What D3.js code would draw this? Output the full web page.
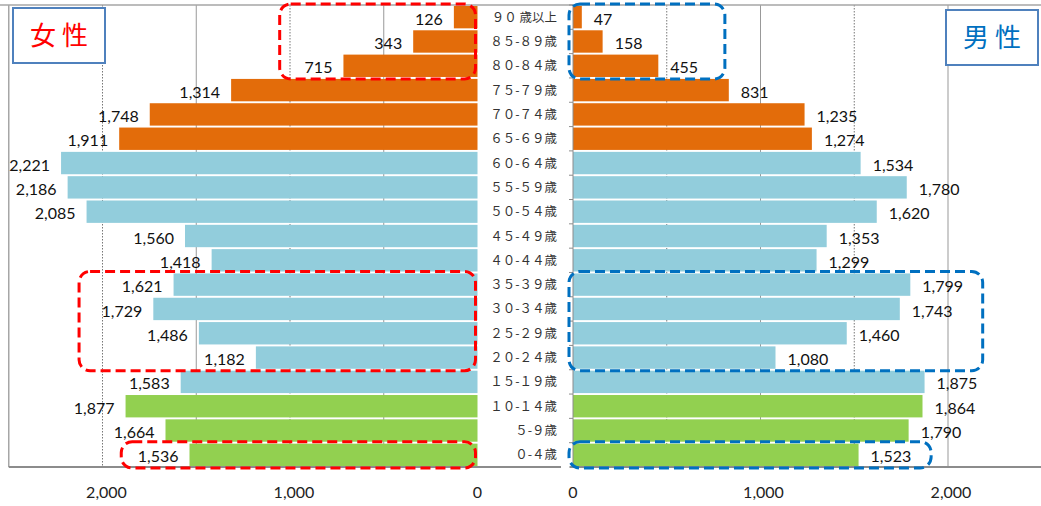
<!DOCTYPE html>
<html>
<head>
<meta charset="utf-8">
<script src="https://cdn.jsdelivr.net/npm/d3@7"></script>
<style>
  body { margin: 0; background: #fff; }
  svg { display: block; }
</style>
</head>
<body>
<div id="chart"></div>
<script>
// age groups, top to bottom
var ages = ["９０ 歳以上", "８５-８９歳", "８０-８４歳", "７５-７９歳", "７０-７４歳", "６５-６９歳",
  "６０-６４歳", "５５-５９歳", "５０-５４歳", "４５-４９歳", "４０-４４歳", "３５-３９歳",
  "３０-３４歳", "２５-２９歳", "２０-２４歳", "１５-１９歳", "１０-１４歳", "５-９歳", "０-４歳"];

var female = [126, 343, 715, 1314, 1748, 1911, 2221, 2186, 2085, 1560, 1418, 1621, 1729, 1486, 1182, 1583, 1877, 1664, 1536];
var male = [47, 158, 455, 831, 1235, 1274, 1534, 1780, 1620, 1353, 1299, 1799, 1743, 1460, 1080, 1875, 1864, 1790, 1523];

// 老年 / 生産年齢 / 年少
var groups = ["old", "old", "old", "old", "old", "old", "work", "work", "work", "work", "work",
  "work", "work", "work", "work", "work", "young", "young", "young"];

var tickValues = [0, 1000, 2000];

// highlighted ranges: first age, last age, value reached
var femaleBoxes = [
  {from: 0, to: 2, value: 1055},
  {from: 11, to: 14, value: 2125},
  {from: 18, to: 18, value: 1900}
];
var maleBoxes = [
  {from: 0, to: 2, value: 810},
  {from: 11, to: 14, value: 2185},
  {from: 18, to: 18, value: 1910}
];

var svgWidth = 1041;
var svgHeight = 506;

var colors = {old: "#E36C0A", work: "#92CDDC", young: "#92D050"};

var svg = d3.select("#chart")
  .append("svg")
  .attr("width", svgWidth)
  .attr("height", svgHeight);

var plotTop = 5, plotBottom = 467;

// scales
var xL = d3.scaleLinear().domain([0, 2500]).range([477.5, 8.75]);
var xR = d3.scaleLinear().domain([0, 2500]).range([573, 1041.75]);
var y = d3.scaleBand().domain(ages).range([plotTop, plotBottom]).paddingInner(0.08).paddingOuter(0.04);
var band = (plotBottom - plotTop) / ages.length;

var rows = ages.map(function(a, i) {
  return {age: a, f: female[i], m: male[i], g: groups[i], i: i};
});

// gridlines
[500, 1000, 1500, 2000].forEach(function(v) {
  svg.append("line")
    .attr("x1", xL(v)).attr("x2", xL(v))
    .attr("y1", plotTop).attr("y2", plotBottom)
    .attr("stroke", (v % 1000 === 0) ? "#777" : "#999")
    .attr("stroke-dasharray", (v % 1000 === 0) ? "1.5,1.5" : null)
    .attr("stroke-width", 1);
  svg.append("line")
    .attr("x1", xR(v)).attr("x2", xR(v))
    .attr("y1", plotTop).attr("y2", plotBottom)
    .attr("stroke", (v % 1000 === 0) ? "#999" : "#777")
    .attr("stroke-dasharray", (v % 1000 === 0) ? null : "1.5,1.5")
    .attr("stroke-width", 1);
});

// frame
svg.append("line").attr("x1", 0).attr("x2", svgWidth).attr("y1", plotTop).attr("y2", plotTop)
  .attr("stroke", "#a6a6a6").attr("stroke-width", 1.5);
svg.append("line").attr("x1", xL(2500)).attr("x2", xL(2500)).attr("y1", plotTop).attr("y2", plotBottom)
  .attr("stroke", "#a6a6a6").attr("stroke-width", 1.5);

// bars
svg.selectAll(".barF")
  .data(rows)
  .enter()
  .append("rect")
  .attr("class", "barF")
  .attr("x", d => xL(d.f))
  .attr("y", d => y(d.age))
  .attr("width", d => xL(0) - xL(d.f))
  .attr("height", y.bandwidth())
  .attr("fill", d => colors[d.g]);

svg.selectAll(".barM")
  .data(rows)
  .enter()
  .append("rect")
  .attr("class", "barM")
  .attr("x", xR(0))
  .attr("y", d => y(d.age))
  .attr("width", d => xR(d.m) - xR(0))
  .attr("height", y.bandwidth())
  .attr("fill", d => colors[d.g]);

// axes
svg.append("line").attr("x1", xL(2500)).attr("x2", 561).attr("y1", plotBottom).attr("y2", plotBottom)
  .attr("stroke", "#8c8c8c").attr("stroke-width", 2);
svg.append("line").attr("x1", 570).attr("x2", svgWidth).attr("y1", plotBottom).attr("y2", plotBottom)
  .attr("stroke", "#8c8c8c").attr("stroke-width", 2);
svg.append("line").attr("x1", xR(0)).attr("x2", xR(0)).attr("y1", plotTop).attr("y2", plotBottom)
  .attr("stroke", "#8c8c8c").attr("stroke-width", 1);
d3.range(ages.length + 1).forEach(function(k) {
  svg.append("line")
    .attr("x1", xR(0) - 4).attr("x2", xR(0))
    .attr("y1", plotTop + k * band).attr("y2", plotTop + k * band)
    .attr("stroke", "#8c8c8c");
});

var fmt = d3.format(",");

var axisFont = "Lato, 'Open Sans', sans-serif";

svg.selectAll(".tickL")
  .data(tickValues)
  .enter()
  .append("text")
  .attr("x", d => xL(d) + (d === 0 ? 0 : 4))
  .attr("y", 498)
  .attr("text-anchor", "middle")
  .attr("font-family", axisFont)
  .attr("font-size", "16px")
  .attr("fill", "#222")
  .text(d => fmt(d));

svg.selectAll(".tickR")
  .data(tickValues)
  .enter()
  .append("text")
  .attr("x", d => xR(d) + (d === 0 ? 0 : 3))
  .attr("y", 498)
  .attr("text-anchor", "middle")
  .attr("font-family", axisFont)
  .attr("font-size", "16px")
  .attr("fill", "#222")
  .text(d => fmt(d));

// age labels
svg.selectAll(".age")
  .data(rows)
  .enter()
  .append("text")
  .attr("x", 557)
  .attr("y", d => y(d.age) + y.bandwidth() / 2)
  .attr("dy", "0.36em")
  .attr("text-anchor", "end")
  .attr("font-family", "'Noto Sans CJK JP', sans-serif")
  .attr("font-size", "12.5px")
  .attr("fill", "#333")
  .text(d => d.age);

// value labels
svg.selectAll(".valF")
  .data(rows)
  .enter()
  .append("text")
  .attr("x", d => xL(d.f) - 11)
  .attr("y", d => y(d.age) + y.bandwidth() / 2 + 2)
  .attr("dy", "0.35em")
  .attr("text-anchor", "end")
  .attr("font-family", axisFont)
  .attr("font-size", "16px")
  .attr("fill", "#111")
  .text(d => fmt(d.f));

svg.selectAll(".valM")
  .data(rows)
  .enter()
  .append("text")
  .attr("x", d => xR(d.m) + 12)
  .attr("y", d => y(d.age) + y.bandwidth() / 2 + 2)
  .attr("dy", "0.35em")
  .attr("text-anchor", "start")
  .attr("font-family", axisFont)
  .attr("font-size", "16px")
  .attr("fill", "#111")
  .text(d => fmt(d.m));

// dashed highlight boxes
svg.selectAll(".boxF")
  .data(femaleBoxes)
  .enter()
  .append("rect")
  .attr("x", d => xL(d.value))
  .attr("y", d => y(ages[d.from]) - 2)
  .attr("width", d => xL(0) - xL(d.value) - 2)
  .attr("height", d => y(ages[d.to]) + y.bandwidth() - y(ages[d.from]) + 4)
  .attr("rx", 11)
  .attr("fill", "none")
  .attr("stroke", "#FF0000")
  .attr("stroke-width", 3)
  .attr("stroke-dasharray", "10,5");

svg.selectAll(".boxM")
  .data(maleBoxes)
  .enter()
  .append("rect")
  .attr("x", xR(0) - 4)
  .attr("y", d => y(ages[d.from]) - 2)
  .attr("width", d => xR(d.value) - xR(0) + 4)
  .attr("height", d => y(ages[d.to]) + y.bandwidth() - y(ages[d.from]) + 4)
  .attr("rx", 11)
  .attr("fill", "none")
  .attr("stroke", "#0070C0")
  .attr("stroke-width", 3)
  .attr("stroke-dasharray", "10,5");

// sex labels
function sexLabel(x, yy, label, color) {
  svg.append("rect")
    .attr("x", x).attr("y", yy)
    .attr("width", 92).attr("height", 55)
    .attr("fill", "#fff")
    .attr("stroke", "#4F81BD")
    .attr("stroke-width", 2);
  svg.append("text")
    .attr("x", x + 46).attr("y", yy + 28)
    .attr("dy", "0.36em")
    .attr("text-anchor", "middle")
    .attr("font-family", "'Noto Sans CJK JP', sans-serif")
    .attr("font-size", "26px")
    .attr("fill", color)
    .text(label);
}
sexLabel(13, 8, "女 性", "#FF0000");
sexLabel(946, 10, "男 性", "#0070C0");
</script>
</body>
</html>
